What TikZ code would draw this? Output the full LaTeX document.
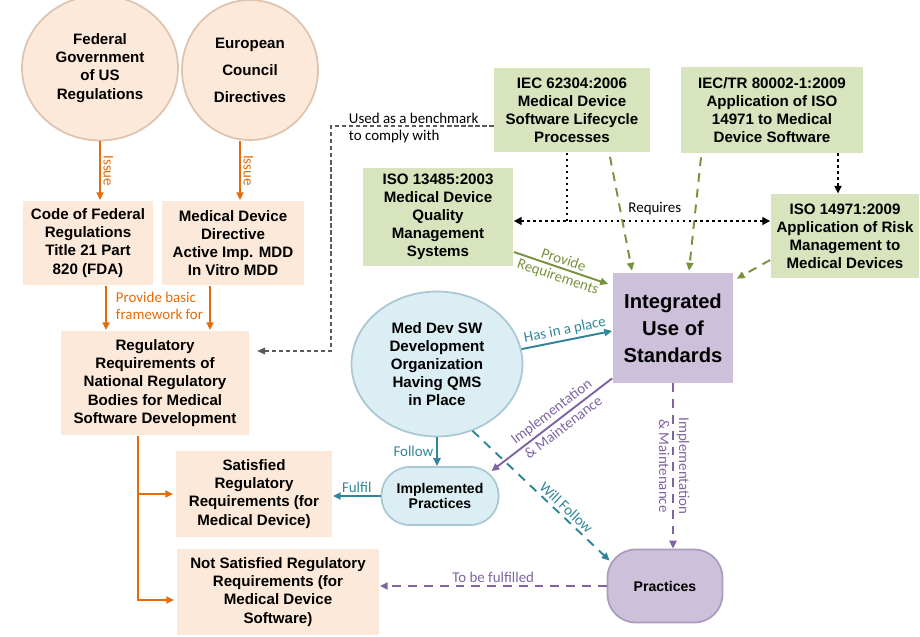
\documentclass[tikz,border=0pt]{standalone}
\usepackage{fontspec}
\setmainfont{Liberation Sans}
\newfontfamily\lblfont{Carlito}
\usetikzlibrary{calc,shapes.geometric,arrows.meta}

\definecolor{peach}{RGB}{253,233,217}
\definecolor{peachrim}{RGB}{222,196,176}
\definecolor{sage}{RGB}{215,228,189}
\definecolor{lilac}{RGB}{204,192,218}
\definecolor{lilacrim}{RGB}{170,156,190}
\definecolor{sky}{RGB}{219,238,244}
\definecolor{skyrim}{RGB}{170,200,210}
\definecolor{orng}{RGB}{228,108,10}
\definecolor{tealc}{RGB}{49,133,155}
\definecolor{purp}{RGB}{128,100,162}
\definecolor{grn}{RGB}{118,146,60}
\definecolor{benchgray}{RGB}{90,90,90}

\begin{document}
\begin{tikzpicture}[x=0.02cm,y=-0.02cm,
   box/.style={rectangle,fill=peach,inner sep=0pt,align=center,
    font=\fontsize{8.6}{10.3}\selectfont\bfseries},
   stdbox/.style={box,fill=sage},
   bubble/.style={ellipse,fill=peach,draw=peachrim,line width=1pt,
    inner sep=0pt,align=center,font=\fontsize{8.6}{10.3}\selectfont\bfseries},
   pill/.style={rectangle,rounded corners=16pt,draw=skyrim,line width=1pt,
    fill=sky,inner sep=0pt,align=center,
    font=\fontsize{8}{8.6}\selectfont\bfseries},
   lbl/.style={font=\lblfont\fontsize{8.5}{9.5}\selectfont,inner sep=1.5pt},
   tip/.style={-{Triangle[length=4.5pt,width=4pt]}},
   oarrow/.style={tip,draw=orng,line width=1.1pt},
   garrow/.style={tip,draw=grn,line width=1.1pt},
   gdash/.style={garrow,dash pattern=on 5pt off 4pt},
   tarrow/.style={tip,draw=tealc,line width=1.1pt},
   parrow/.style={tip,draw=purp,line width=1.1pt},
   req/.style={draw=black,line width=1.4pt,dotted},
   bench/.style={tip,draw=benchgray,line width=0.6pt,dash pattern=on 2.5pt off 1.5pt}
    ]
  \useasboundingbox (0,0) rectangle (920,636);

  % -- regulation side
  \node[bubble,minimum width=3.12cm,minimum height=2.9cm] at (100,68) (fed)
    {Federal\\Government\\of US\\Regulations};
  \node[bubble,minimum width=2.72cm,minimum height=2.8cm,
    font=\fontsize{8.6}{15.3}\selectfont\bfseries] at (250,70) (eur)
    {European\\Council\\Directives};
  \node[box,minimum width=2.62cm,minimum height=1.7cm] at (88,243) (cfr)
    {Code of Federal\\Regulations\\Title 21 Part\\820 (FDA)};
  \node[box,minimum width=2.86cm,minimum height=1.7cm] at (233,243) (mdd)
    {Medical Device\\Directive\\Active Imp. MDD\\In Vitro MDD};
  \node[box,minimum width=3.76cm,minimum height=2.1cm] at (155,383) (reg)
    {Regulatory\\Requirements of\\National Regulatory\\Bodies for Medical\\Software Development};
  \node[box,minimum width=3.14cm,minimum height=1.74cm] at (254,494) (sat)
    {Satisfied\\Regulatory\\Requirements (for\\Medical Device)};
  \node[box,minimum width=4.06cm,minimum height=1.72cm] at (278,592) (notsat)
    {Not Satisfied Regulatory\\Requirements (for\\Medical Device\\Software)};

  % -- standards
  \node[stdbox,minimum width=3.12cm,minimum height=1.7cm] at (572,110) (iec62304)
    {IEC 62304:2006\\Medical Device\\Software Lifecycle\\Processes};
  \node[stdbox,minimum width=3.66cm,minimum height=1.72cm] at (772,110) (iectr)
    {IEC/TR 80002-1:2009\\Application of ISO\\14971 to Medical\\Device Software};
  \node[stdbox,minimum width=3.02cm,minimum height=1.96cm] at (438,217) (iso13485)
    {ISO 13485:2003\\Medical Device\\Quality\\Management\\Systems};
  \node[stdbox,minimum width=2.98cm,minimum height=1.68cm] at (845,236) (iso14971)
    {ISO 14971:2009\\Application of Risk\\Management to\\Medical Devices};
  \node[box,fill=lilac,minimum width=2.42cm,minimum height=2.2cm,
    font=\fontsize{11.5}{15.3}\selectfont\bfseries] at (673,328) (integ)
    {Integrated\\Use of\\Standards};

  % -- organisation and practices
  \node[bubble,fill=sky,draw=skyrim,minimum width=3.42cm,minimum height=2.9cm]
    at (437,364) (medorg)
    {Med Dev SW\\Development\\Organization\\Having QMS\\in Place};
  \node[pill,minimum width=2.34cm,minimum height=1.16cm] at (440,496) (impl)
    {Implemented\\Practices};
  \node[pill,fill=lilac,draw=lilacrim,minimum width=2.3cm,minimum height=1.46cm]
    at (665,586) (prac) {Practices};

  % -- orange connectors
  \draw[oarrow] (fed.south) -- (fed.south |- cfr.north)
    node[midway,lbl,text=orng,rotate=-90,anchor=south] {Issue};
  \draw[oarrow] ($(eur.south)+(-10,0)$) coordinate (e0) -- (e0 |- mdd.north)
    node[midway,lbl,text=orng,rotate=-90,anchor=south] {Issue};
  \draw[oarrow] ($(cfr.south)+(18,0)$) coordinate (f1) -- (f1 |- reg.north);
  \draw[oarrow] ($(mdd.south)+(-23,0)$) coordinate (f2) -- (f2 |- reg.north);
  \node[lbl,text=orng,align=left,anchor=west] at (113,306) (basic)
    {Provide basic\\framework for};
  \draw[oarrow] ($(reg.south)+(-17,0)$) coordinate (t0) |- ($(notsat.west)+(-2,8)$);
  \draw[oarrow] (t0 |- sat.west) -- ($(sat.west)+(-2,0)$);

  % -- benchmark
  \coordinate (bend) at (331,126);
  \draw[bench] (iec62304.west |- bend) -- (bend) |- ($(reg.east)+(8,-32)$);
  \node[lbl,align=left,anchor=west] at (346,128) (benchtxt)
    {Used as a benchmark\\to comply with};

  % -- requires
  \draw[req,{Triangle[length=4.5pt,width=4.5pt]}-{Triangle[length=4.5pt,width=4.5pt]}]
    ($(iso13485.east)+(0,4)$) coordinate (r1) -- (r1 -| iso14971.west)
    node[pos=0.55,above,lbl,yshift=1pt] {Requires};
  \draw[req] ($(iec62304.south)+(-5,0)$) coordinate (r0) -- (r0 |- r1);
  \draw[req,tip] ($(iectr.south)+(66,0)$) -- ($(iso14971.north)+(-7,0)$);

  % -- into integrated use
  \draw[gdash] ($(iec62304.south)+(38,4)$) -- ($(integ.north)+(-41,-2)$);
  \draw[gdash] ($(iectr.south)+(-71,4)$) -- ($(integ.north)+(16,-2)$);
  \draw[gdash] ($(iso14971.west)+(0,24)$) -- ($(integ.north east)+(3,6)$);
  \draw[garrow] ($(iso13485.east)+(0,35)$) -- ($(integ.west)+(-4,-44)$)
    node[midway,sloped,above,lbl,text=grn] {Provide}
    node[midway,sloped,below,lbl,text=grn] {Requirements};
  \draw[tarrow] (medorg.10) -- ($(integ.west)+(0,3)$)
    node[midway,sloped,above,lbl,text=tealc] {Has in a place};

  % -- practices
  \draw[parrow] ($(integ.south west)+(0,-5)$) -- ($(impl.north east)+(-8,5)$)
    node[pos=0.45,sloped,above,lbl,text=purp] {Implementation}
    node[pos=0.45,sloped,below,lbl,text=purp] {\& Maintenance};
  \draw[tarrow] (medorg.south) -- (medorg.south |- impl.north)
    node[midway,left,lbl,text=tealc] {Follow};
  \draw[tarrow] (impl.west) -- (impl.west -| sat.east)
    node[midway,above,lbl,text=tealc] {Fulfil};
  \draw[tarrow,dash pattern=on 5pt off 4pt] (medorg.-62) -- ($(prac.north west)+(3,12)$)
    node[pos=0.64,sloped,above,lbl,text=tealc] {Will Follow};
  \draw[parrow,dash pattern=on 5pt off 4pt] (integ.south) -- (integ.south |- prac.north)
    node[midway,lbl,text=purp,rotate=-90,anchor=south] {Implementation}
    node[midway,lbl,text=purp,rotate=-90,anchor=north] {\& Maintenance};
  \draw[parrow,dash pattern=on 5pt off 4pt] (prac.west) -- (prac.west -| notsat.east)
    node[midway,above,lbl,text=purp] {To be fulfilled};

\end{tikzpicture}
\end{document}
